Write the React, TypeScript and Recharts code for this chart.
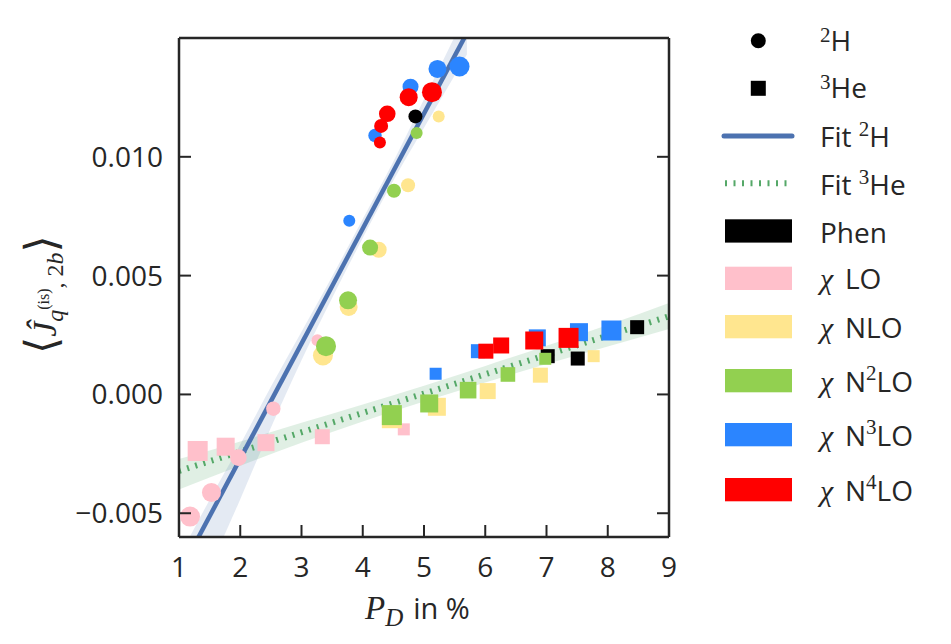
import React from 'react';
import { ComposedChart, XAxis, YAxis, Scatter, Line, Area, Legend } from 'recharts';

const xTicks = [1, 2, 3, 4, 5, 6, 7, 8, 9];
const yTicks = [-0.005, 0, 0.005, 0.01];

// 2H (circles): [P_D in %, value, marker radius]
const phenH = [[4.86, 0.0117, 7]];
const loH = [[3.26, 0.00228, 6], [2.54, -0.0006, 7.2], [1.97, -0.00266, 8.3], [1.53, -0.00413, 9.5], [1.18, -0.00514, 10]];
const nloH = [[5.24, 0.0117, 6], [4.74, 0.0088, 7], [4.26, 0.00609, 8], [3.77, 0.00368, 9], [3.35, 0.00164, 10]];
const n2loH = [[4.88, 0.011, 6], [4.51, 0.00857, 7], [4.12, 0.00618, 8], [3.76, 0.00396, 9], [3.4, 0.00203, 10]];
const n3loH = [[3.78, 0.00731, 6], [4.2, 0.0109, 6.7], [4.78, 0.01295, 8], [5.22, 0.0137, 9], [5.58, 0.0138, 10]];
const n4loH = [[4.28, 0.0106, 6], [4.3, 0.0113, 7], [4.4, 0.01181, 8.3], [4.75, 0.01251, 9], [5.13, 0.01272, 10]];

// 3He (squares): [P_D in %, value, half side]
const phenHe = [[7.02, 0.00161, 7], [7.51, 0.00151, 7], [8.48, 0.00283, 7]];
const loHe = [[1.305, -0.00238, 10], [1.762, -0.0022, 9], [2.42, -0.00203, 8.5], [3.34, -0.00178, 7.5], [4.67, -0.00147, 6]];
const nloHe = [[4.475, -0.001, 10], [5.21, -0.00052, 9], [6.04, 0.00014, 8], [6.9, 0.00081, 7.5], [7.77, 0.00161, 6]];
const n2loHe = [[4.475, -0.00087, 10], [5.085, -0.00038, 9], [5.72, 0.00018, 8.3], [6.37, 0.00084, 7.3], [6.98, 0.0015, 6]];
const n3loHe = [[5.19, 0.00087, 6], [5.88, 0.00182, 7], [6.85, 0.00238, 8.5], [7.53, 0.00262, 9], [8.06, 0.00269, 10]];
const n4loHe = [[6.01, 0.00182, 7.5], [6.26, 0.00206, 8], [6.8, 0.00227, 9], [7.36, 0.00238, 10]];

// fits: [P_D, value]
const fitH = [[1.15, -0.00682], [5.7, 0.01521]];
const fitHe = [[1, -0.00322], [9, 0.00329]];
// confidence bands: [P_D, low, high]
const bandH = [
  [1.15, -0.00942, -0.00612], [1.5, -0.00733, -0.00443], [2.0, -0.00441, -0.00211], [2.5, -0.0014, 0.00032],
  [3.0, 0.00144, 0.00264], [3.5, 0.00406, 0.00496], [4.0, 0.00658, 0.00738], [4.5, 0.009, 0.0098],
  [5.0, 0.01122, 0.01242], [5.7, 0.01431, 0.01611],
];
const bandHe = [
  [1, -0.004, -0.00272], [2, -0.003, -0.00198], [3, -0.00203, -0.00119], [4, -0.00114, -0.00042],
  [5, -0.0003, 0.00037], [6, 0.0005, 0.0012], [7, 0.00128, 0.00205], [8, 0.00202, 0.00292], [9, 0.00275, 0.00385],
];

const COL = {
  phen: '#000000', lo: '#ffc0cb', nlo: '#ffe68f', n2lo: '#92d050', n3lo: '#2b85ff', n4lo: '#ff0000',
  fitH: '#4c72b0', fitHe: '#55a868', ink: '#262626',
};

const SANS = 'Open Sans';
const SERIF = 'Liberation Serif';

const pts = (a: number[][]) => a.map(([x, y, s]) => ({ x, y, s }));
const linePts = (a: number[][]) => a.map(([x, y]) => ({ x, y }));
const bandPts = (a: number[][]) => a.map(([x, lo, hi]) => ({ x, band: [lo, hi] }));

const circleShape = (color: string) => (p: any) => (
  <circle cx={p.cx} cy={p.cy} r={p.payload.s} fill={color} />
);
const squareShape = (color: string) => (p: any) => (
  <rect x={p.cx - p.payload.s} y={p.cy - p.payload.s} width={2 * p.payload.s} height={2 * p.payload.s} fill={color} />
);

const fmtY = (v: number) => (v < 0 ? '\u2212' : '') + Math.abs(v).toFixed(3);

const BottomTick = (p: any) => (
  <g>
    <line x1={p.x} y1={p.y} x2={p.x} y2={p.y - 12} stroke={COL.ink} strokeWidth={2} />
    <text x={p.x} y={p.y + 40} textAnchor="middle" fontFamily={SANS} fontSize={28} fill={COL.ink}>{p.payload.value}</text>
  </g>
);
const TopTick = (p: any) => (
  <line x1={p.x} y1={p.y} x2={p.x} y2={p.y + 12} stroke={COL.ink} strokeWidth={2} />
);
const LeftTick = (p: any) => (
  <g>
    <line x1={p.x} y1={p.y} x2={p.x + 12} y2={p.y} stroke={COL.ink} strokeWidth={2} />
    <text x={p.x - 16} y={p.y + 10} textAnchor="end" fontFamily={SANS} fontSize={28} fill={COL.ink}>{fmtY(p.payload.value)}</text>
  </g>
);
const RightTick = (p: any) => (
  <line x1={p.x} y1={p.y} x2={p.x - 12} y2={p.y} stroke={COL.ink} strokeWidth={2} />
);

const XLabel = () => (
  <text x={365} y={619} fill={COL.ink}>
    <tspan fontFamily={SERIF} fontStyle="italic" fontSize={33}>P</tspan>
    <tspan fontFamily={SERIF} fontStyle="italic" fontSize={25} dy={7}>D</tspan>
    <tspan fontFamily={SANS} fontSize={29} dy={-7} dx={10}>in %</tspan>
  </text>
);

const YLabel = () => (
  <text transform="translate(56,354) rotate(-90)" fill={COL.ink}>
    <tspan fontFamily="DejaVu Serif" fontSize={44}>⟨</tspan>
    <tspan fontFamily={SERIF} fontStyle="italic" fontSize={34}>Ĵ</tspan>
    <tspan fontFamily={SERIF} fontStyle="italic" fontSize={24} dy={7}>q</tspan>
    <tspan fontFamily={SERIF} fontSize={16} dy={-14}>(is)</tspan>
    <tspan fontFamily={SERIF} fontSize={24} dy={14}>, 2</tspan>
    <tspan fontFamily={SERIF} fontStyle="italic" fontSize={24}>b</tspan>
    <tspan fontFamily="DejaVu Serif" fontSize={44} dy={-7}>⟩</tspan>
  </text>
);

const legendRows = [
  { label: 'Phen', color: COL.phen, sup: '' },
  { label: 'LO', color: COL.lo, sup: '' },
  { label: 'NLO', color: COL.nlo, sup: '' },
  { label: 'N', sup: '2', color: COL.n2lo },
  { label: 'N', sup: '3', color: COL.n3lo },
  { label: 'N', sup: '4', color: COL.n4lo },
];

const LegendBox = () => {
  const rowTop = [199.3, 246.7, 295, 349, 403, 458];
  return (
    <svg width={240} height={500}>
      <circle cx={58.3} cy={20.7} r={7.5} fill="#000" />
      <text x={120} y={30.7} fill={COL.ink}>
        <tspan fontFamily={SERIF} fontSize={21} dy={-9}>2</tspan>
        <tspan fontFamily={SANS} fontSize={28} dy={9}>H</tspan>
      </text>
      <rect x={50.8} y={60.8} width={15} height={15} fill="#000" />
      <text x={120} y={78.3} fill={COL.ink}>
        <tspan fontFamily={SERIF} fontSize={21} dy={-9}>3</tspan>
        <tspan fontFamily={SANS} fontSize={28} dy={9}>He</tspan>
      </text>
      <line x1={24} y1={116} x2={92} y2={116} stroke={COL.fitH} strokeWidth={5} strokeLinecap="round" />
      <text x={120} y={126.7} fill={COL.ink}>
        <tspan fontFamily={SANS} fontSize={28}>Fit </tspan>
        <tspan fontFamily={SERIF} fontSize={21} dy={-11}>2</tspan>
        <tspan fontFamily={SANS} fontSize={28} dy={11}>H</tspan>
      </text>
      <line x1={25} y1={163.3} x2={88} y2={163.3} stroke={COL.fitHe} strokeWidth={6} strokeDasharray="2 6.5" />
      <text x={120} y={175} fill={COL.ink}>
        <tspan fontFamily={SANS} fontSize={28}>Fit </tspan>
        <tspan fontFamily={SERIF} fontSize={21} dy={-11}>3</tspan>
        <tspan fontFamily={SANS} fontSize={28} dy={11}>He</tspan>
      </text>
      {legendRows.map((r, i) => (
        <g key={i}>
          <rect x={25} y={rowTop[i]} width={67} height={23.3} fill={r.color} />
          {i === 0 ? (
            <text x={120} y={rowTop[i] + 23.3} fontFamily={SANS} fontSize={28} fill={COL.ink}>{r.label}</text>
          ) : (
            <text x={120} y={rowTop[i] + 22.5} fill={COL.ink}>
              <tspan fontFamily={SERIF} fontStyle="italic" fontSize={30}>χ</tspan>
              <tspan x={145} fontFamily={SANS} fontSize={28}>{r.label}</tspan>
              {r.sup ? <tspan fontFamily={SERIF} fontSize={21} dy={-12}>{r.sup}</tspan> : null}
              {r.sup ? <tspan fontFamily={SANS} fontSize={28} dy={12}>LO</tspan> : null}
            </text>
          )}
        </g>
      ))}
    </svg>
  );
};

const series = [
  { h: phenH, he: phenHe, c: COL.phen },
  { h: loH, he: loHe, c: COL.lo },
  { h: nloH, he: nloHe, c: COL.nlo },
  { h: n2loH, he: n2loHe, c: COL.n2lo },
  { h: n3loH, he: n3loHe, c: COL.n3lo },
  { h: n4loH, he: n4loHe, c: COL.n4lo },
];

export default function App() {
  return (
    <div style={{ position: 'absolute', left: 0, top: 0, width: 951, height: 644, background: '#fff' }}>
      <ComposedChart width={951} height={644} margin={{ top: 28, right: 272, bottom: 47, left: 0 }}>
        <XAxis
          xAxisId={0} dataKey="x" type="number" domain={[1, 9]} ticks={xTicks} interval={0}
          allowDataOverflow height={60} tickSize={0} tickMargin={0}
          axisLine={{ stroke: COL.ink, strokeWidth: 2.5 }} tickLine={false} tick={<BottomTick />}
          label={{ content: () => <XLabel /> }}
        />
        <XAxis
          xAxisId="top" orientation="top" type="number" domain={[1, 9]} ticks={xTicks} interval={0}
          allowDataOverflow height={10} tickSize={0} tickMargin={0}
          axisLine={{ stroke: COL.ink, strokeWidth: 2.5 }} tickLine={false} tick={<TopTick />}
        />
        <YAxis
          yAxisId={0} dataKey="y" type="number" domain={[-0.006, 0.015]} ticks={yTicks} interval={0}
          allowDataOverflow width={179} tickSize={0} tickMargin={0}
          axisLine={{ stroke: COL.ink, strokeWidth: 2.5 }} tickLine={false} tick={<LeftTick />}
          label={{ content: () => <YLabel /> }}
        />
        <YAxis
          yAxisId="right" orientation="right" type="number" domain={[-0.006, 0.015]} ticks={yTicks} interval={0}
          allowDataOverflow width={10} tickSize={0} tickMargin={0}
          axisLine={{ stroke: COL.ink, strokeWidth: 2.5 }} tickLine={false} tick={<RightTick />}
        />
        <Area data={bandPts(bandHe)} dataKey="band" type="monotone" stroke="none" fill={COL.fitHe} fillOpacity={0.18} isAnimationActive={false} />
        <Area data={bandPts(bandH)} dataKey="band" type="monotone" stroke="none" fill={COL.fitH} fillOpacity={0.15} isAnimationActive={false} />
        <Line data={linePts(fitHe)} dataKey="y" type="linear" stroke={COL.fitHe} strokeWidth={6} strokeDasharray="2 6.5" dot={false} isAnimationActive={false} />
        <Line data={linePts(fitH)} dataKey="y" type="linear" stroke={COL.fitH} strokeWidth={4.5} dot={false} isAnimationActive={false} />
        {series.map((s, i) => (
          <Scatter key={'h' + i} data={pts(s.h)} fill={s.c} shape={circleShape(s.c)} isAnimationActive={false} />
        ))}
        {series.map((s, i) => (
          <Scatter key={'he' + i} data={pts(s.he)} fill={s.c} shape={squareShape(s.c)} isAnimationActive={false} />
        ))}
        <Legend
          layout="vertical" align="center" verticalAlign="middle"
          wrapperStyle={{ position: 'absolute', left: 700, top: 20, width: 240, height: 500 }}
          content={() => <LegendBox />}
        />
      </ComposedChart>
    </div>
  );
}
